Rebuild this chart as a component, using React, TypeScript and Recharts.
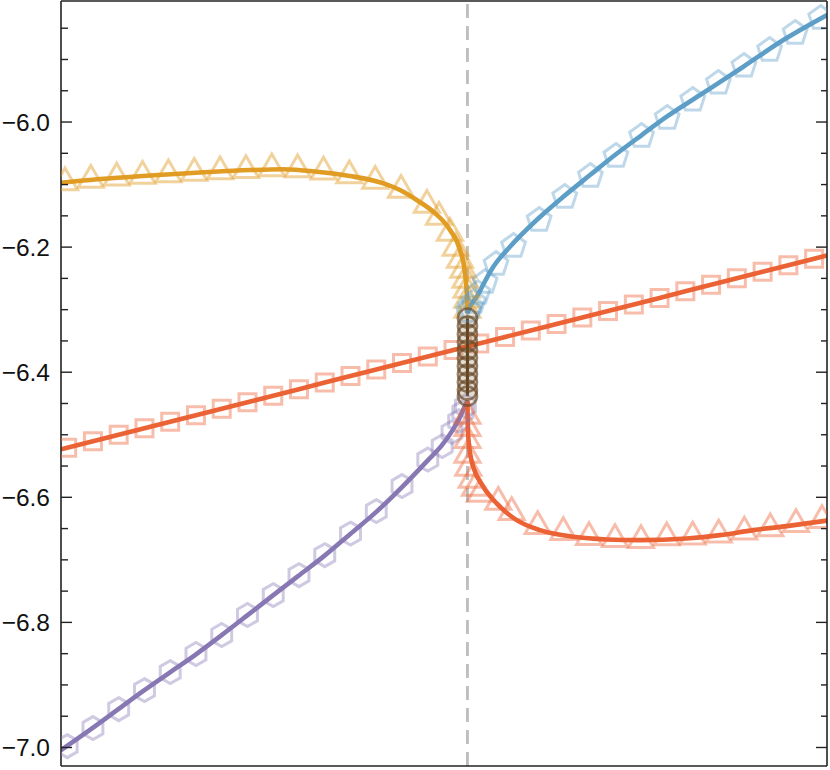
import React from 'react';
import { ComposedChart, Line, Scatter, XAxis, YAxis, ReferenceLine } from 'recharts';

// ---- axis ticks ----
const majorTicks = [-7.0, -6.8, -6.6, -6.4, -6.2, -6.0];
const minorTicks = [-6.95, -6.9, -6.85, -6.75, -6.7, -6.65, -6.55, -6.5, -6.45, -6.35, -6.3, -6.25, -6.15, -6.1, -6.05, -5.95, -5.9, -5.85];
const xDomain = [-0.789, 0.698];
const yDomain = [-7.0296, -5.8065];

// ---- solid curves ----
const orangeX = [-0.7891, -0.7134, -0.6163, -0.5192, -0.4222, -0.3575, -0.2927, -0.228, -0.1633, -0.1309, -0.0985, -0.0662, -0.0338, -0.0144, -0.0047, -0.0012, 0];
const orangeY = [-6.0971, -6.0912, -6.0856, -6.0808, -6.0768, -6.0756, -6.0795, -6.0864, -6.098, -6.1087, -6.1247, -6.1435, -6.1727, -6.2047, -6.242, -6.2767, -6.3055];

const blueX = [0, 0.009, 0.018, 0.0342, 0.0503, 0.0826, 0.1344, 0.1861, 0.2379, 0.2864, 0.3383, 0.3868, 0.4515, 0.5356, 0.6132, 0.6981];
const blueY = [-6.3055, -6.2895, -6.2794, -6.2543, -6.2314, -6.1994, -6.1567, -6.1195, -6.0848, -6.0528, -6.0208, -5.9915, -5.9568, -5.9116, -5.8689, -5.8289];

const purpleX = [-0.7891, -0.7308, -0.6803, -0.6298, -0.5794, -0.5289, -0.4784, -0.428, -0.3794, -0.3289, -0.2785, -0.228, -0.1775, -0.127, -0.0766, -0.0494, -0.03, -0.0164, -0.0067, 0];
const purpleY = [-7.0043, -6.9706, -6.9403, -6.9099, -6.881, -6.8522, -6.8212, -6.7892, -6.758, -6.726, -6.6941, -6.6589, -6.6237, -6.5837, -6.5405, -6.5166, -6.4942, -6.475, -6.4574, -6.4462];

const redTriX = [0, 0.0005, 0.0021, 0.0069, 0.0114, 0.0308, 0.0568, 0.0956, 0.1409, 0.2055, 0.2703, 0.335, 0.4256, 0.4903, 0.5549, 0.6198, 0.698];
const redTriY = [-6.4462, -6.4766, -6.5086, -6.5373, -6.5517, -6.5832, -6.6098, -6.6365, -6.6525, -6.6632, -6.6674, -6.6685, -6.6658, -6.6605, -6.6525, -6.6461, -6.6373];

const squareX = [-0.777, -0.727, -0.677, -0.627, -0.577, -0.527, -0.477, -0.427, -0.377, -0.327, -0.277, -0.227, -0.177, -0.127, -0.077, -0.027, 0.023, 0.073, 0.123, 0.173, 0.223, 0.273, 0.323, 0.373, 0.423, 0.473, 0.523, 0.573, 0.623, 0.673];
const squareY = [-6.5209, -6.5105, -6.5, -6.4896, -6.4792, -6.4688, -6.4584, -6.4479, -6.4375, -6.4271, -6.4166, -6.4062, -6.3958, -6.3854, -6.375, -6.3645, -6.3541, -6.3437, -6.3333, -6.3228, -6.3124, -6.302, -6.2916, -6.2812, -6.2707, -6.2603, -6.2499, -6.2395, -6.229, -6.2186];
const redLineX = [-0.789, ...squareX, 0.698];
const redLineY = [-6.5234, ...squareY, -6.2133];

// ---- markers ----
const orangeMkX = [-0.7813, -0.7311, -0.6809, -0.6307, -0.5805, -0.5303, -0.4802, -0.43, -0.3798, -0.3296, -0.2794, -0.2292, -0.1791, -0.1289, -0.0787, -0.0552, -0.0339, -0.0228, -0.0144, -0.008, -0.0038, -0.0016, -0.0005, 0];
const orangeMkY = [-6.0968, -6.0928, -6.0892, -6.0864, -6.0838, -6.0816, -6.0792, -6.0771, -6.0744, -6.076, -6.0796, -6.0856, -6.0944, -6.1087, -6.1327, -6.1519, -6.1775, -6.2015, -6.2207, -6.2367, -6.2527, -6.2687, -6.2847, -6.3007];

const blueMkX = [0.6858, 0.6362, 0.5865, 0.5368, 0.4871, 0.4374, 0.3877, 0.338, 0.2883, 0.2386, 0.1889, 0.1392, 0.0895, 0.0555, 0.0342, 0.0206, 0.0118, 0.006, 0.0021];
const blueMkY = [-5.8337, -5.8577, -5.8849, -5.9104, -5.9376, -5.9648, -5.9936, -6.0224, -6.0544, -6.0864, -6.1199, -6.1567, -6.1983, -6.2271, -6.2559, -6.2735, -6.2879, -6.2959, -6.3023];

const purpleMkX = [-0.777, -0.727, -0.677, -0.627, -0.577, -0.527, -0.477, -0.427, -0.377, -0.327, -0.277, -0.227, -0.177, -0.127, -0.077, -0.049, -0.03, -0.017, -0.009, -0.004];
const purpleMkY = [-6.9979, -6.969, -6.9387, -6.9083, -6.8795, -6.8506, -6.8202, -6.7882, -6.7564, -6.7245, -6.6925, -6.6581, -6.6221, -6.5821, -6.5397, -6.5182, -6.4958, -6.4782, -6.4638, -6.4542];

const redMkX = [0.6883, 0.6378, 0.5879, 0.5375, 0.4878, 0.4373, 0.3868, 0.3369, 0.2864, 0.236, 0.1861, 0.1364, 0.0859, 0.0599, 0.0244, 0.0147, 0.0083, 0.0017, 0.0001, 0, 0, 0];
const redMkY = [-6.6365, -6.6429, -6.6498, -6.6552, -6.66, -6.6632, -6.6642, -6.6685, -6.6669, -6.6637, -6.6557, -6.6461, -6.6237, -6.6077, -6.5949, -6.5853, -6.5725, -6.5533, -6.5325, -6.5086, -6.4894, -6.4702];

const brownX = [0, 0, 0, 0, 0, 0, 0, 0, 0, 0, 0];
const brownY = [-6.3134, -6.3262, -6.339, -6.3518, -6.3646, -6.3774, -6.3902, -6.403, -6.4158, -6.4286, -6.4382];

const zip = (xs: number[], ys: number[]) => xs.map((x, i) => ({ x, y: ys[i] }));

const C_ORANGE = '#E19C24';
const C_BLUE = '#5D9EC7';
const C_RED = '#EB6235';
const C_PURPLE = '#8778B3';
const C_BROWN = '#6b4b2a';

const FONT = "'Liberation Sans', Arial, Helvetica, sans-serif";

const isMajor = (v: number) => majorTicks.some((m) => Math.abs(m - v) < 1e-6);
const fmt = (v: number) => (v < 0 ? '\u2212' : '') + Math.abs(v).toFixed(1);

function LeftTick(props: any) {
  const { x, y, payload } = props;
  const major = isMajor(payload.value);
  return (
    <g>
      <line x1={x} x2={x + (major ? 11 : 7)} y1={y} y2={y} stroke="#222" strokeWidth={1.4} />
      {major && (
        <text x={x - 11} y={y} dy="0.36em" textAnchor="end" fontFamily={FONT} fontSize={24.5} fill="#111">
          {fmt(payload.value)}
        </text>
      )}
    </g>
  );
}

function RightTick(props: any) {
  const { x, y, payload } = props;
  const major = isMajor(payload.value);
  return <line x1={x} x2={x - (major ? 11 : 6)} y1={y} y2={y} stroke="#222" strokeWidth={1.4} />;
}

const polyPts = (cx: number, cy: number, r: number, n: number, start: number) => {
  const pts: string[] = [];
  for (let i = 0; i < n; i++) {
    const a = start + (i * 2 * Math.PI) / n;
    pts.push(`${cx + r * Math.cos(a)},${cy + r * Math.sin(a)}`);
  }
  return pts.join(' ');
};

const makePoly = (n: number, r: number, start: number, color: string, op: number) => (p: any) => {
  if (p.cx == null || p.cy == null) return <g />;
  return <polygon points={polyPts(p.cx, p.cy, r, n, start)} fill="none" stroke={color} strokeOpacity={op} strokeWidth={3} strokeLinejoin="miter" />;
};

const TriOrange = makePoly(3, 14.5, -Math.PI / 2, C_ORANGE, 0.45);
const TriRed = makePoly(3, 14.5, -Math.PI / 2, C_RED, 0.42);
const Pent = makePoly(5, 12.5, -Math.PI / 2, C_BLUE, 0.4);
const Hex = makePoly(6, 11.5, -Math.PI / 2, C_PURPLE, 0.4);
const Sq = makePoly(4, 12, -Math.PI / 4, C_RED, 0.42);
const Circ = (p: any) => {
  if (p.cx == null || p.cy == null) return <g />;
  return <circle cx={p.cx} cy={p.cy} r={9.5} fill={C_BROWN} fillOpacity={0.1} stroke={C_BROWN} strokeOpacity={0.7} strokeWidth={2.6} />;
};

export default function App() {
  const allTicks = [...majorTicks, ...minorTicks].sort((a, b) => a - b);
  const common = { xAxisId: 'b', yAxisId: 'l', isAnimationActive: false } as any;
  const lineCommon = { ...common, dataKey: 'y', dot: false, activeDot: false, strokeWidth: 4.6 } as any;
  return (
    <div style={{ position: 'absolute', left: 0, top: 0 }}>
      <ComposedChart width={830} height={770} margin={{ top: 0, right: 2, bottom: 0, left: 0 }}>
        <XAxis xAxisId="b" type="number" dataKey="x" domain={xDomain} allowDataOverflow orientation="bottom" height={4} tick={false} tickLine={false} axisLine={{ stroke: '#222', strokeWidth: 1.6 }} />
        <XAxis xAxisId="t" type="number" dataKey="x" domain={xDomain} allowDataOverflow orientation="top" height={1} tick={false} tickLine={false} axisLine={{ stroke: '#222', strokeWidth: 1.6 }} />
        <YAxis yAxisId="l" type="number" dataKey="y" domain={yDomain} allowDataOverflow orientation="left" width={61} ticks={allTicks} interval={0} tickSize={0} tickMargin={0} tick={<LeftTick />} tickLine={false} axisLine={{ stroke: '#222', strokeWidth: 1.6 }} />
        <YAxis yAxisId="r" type="number" dataKey="y" domain={yDomain} allowDataOverflow orientation="right" width={1} ticks={allTicks} interval={0} tickSize={0} tickMargin={0} tick={<RightTick />} tickLine={false} axisLine={{ stroke: '#222', strokeWidth: 1.6 }} />
        <ReferenceLine xAxisId="b" yAxisId="l" x={0} stroke="#bdbdbd" strokeWidth={2.8} strokeDasharray="14 8" />

        <Scatter {...common} data={zip(squareX, squareY)} shape={Sq} />
        <Scatter {...common} data={zip(orangeMkX, orangeMkY)} shape={TriOrange} />
        <Scatter {...common} data={zip(blueMkX, blueMkY)} shape={Pent} />
        <Scatter {...common} data={zip(purpleMkX, purpleMkY)} shape={Hex} />
        <Scatter {...common} data={zip(redMkX, redMkY)} shape={TriRed} />

        <Line {...lineCommon} data={zip(redLineX, redLineY)} type="linear" stroke={C_RED} />
        <Line {...lineCommon} data={zip(orangeX, orangeY)} type="monotone" stroke={C_ORANGE} />
        <Line {...lineCommon} data={zip(blueX, blueY)} type="monotone" stroke={C_BLUE} />
        <Line {...lineCommon} data={zip(purpleX, purpleY)} type="monotone" stroke={C_PURPLE} />
        <Line {...lineCommon} data={zip(redTriX, redTriY)} type="monotone" stroke={C_RED} />

        <Scatter {...common} data={zip(brownX, brownY)} shape={Circ} />
        <Line {...lineCommon} data={zip(brownX, brownY)} type="linear" stroke="#5b3f1f" strokeWidth={3} />
      </ComposedChart>
    </div>
  );
}
